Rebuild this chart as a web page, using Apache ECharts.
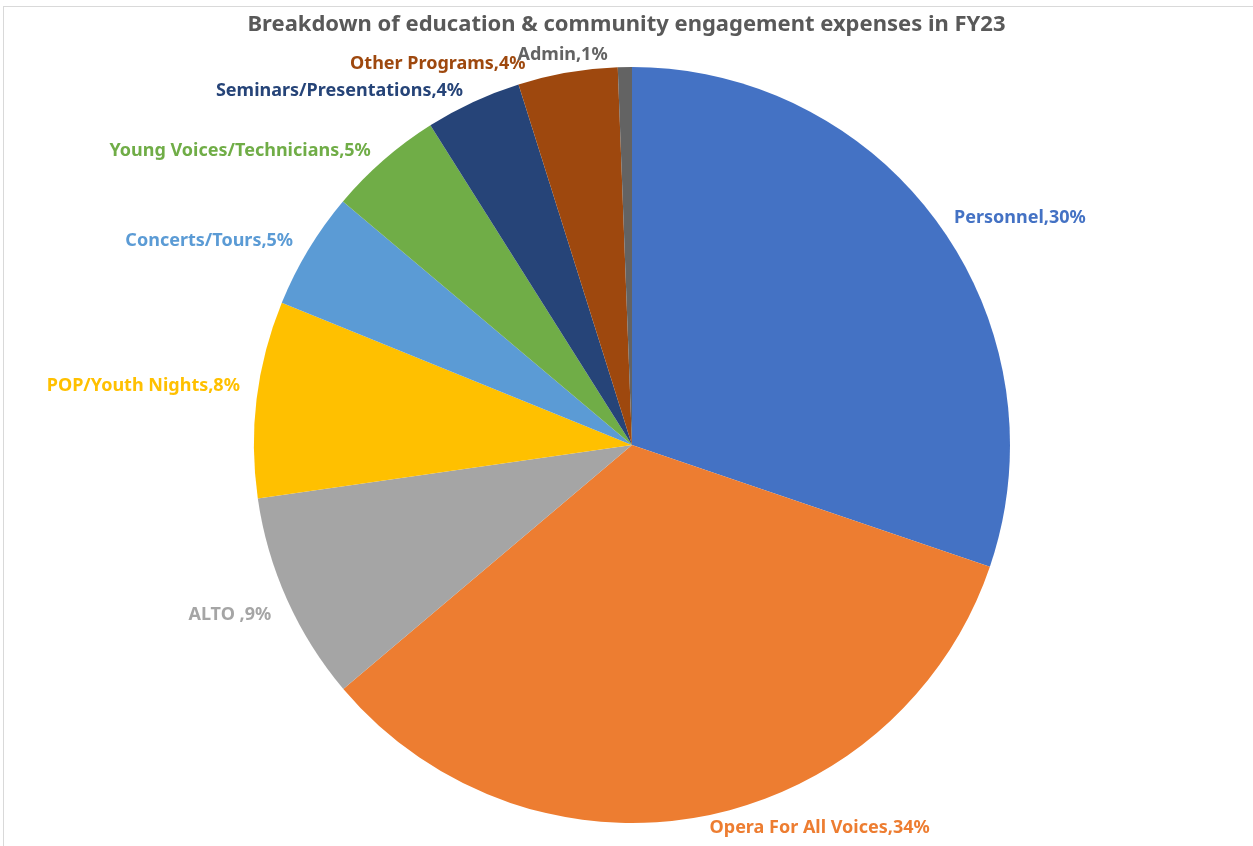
<!DOCTYPE html>
<html>
<head>
<meta charset="utf-8">
<script src="https://cdn.jsdelivr.net/npm/echarts@6/dist/echarts.min.js"></script>
<style>
  html, body { margin: 0; padding: 0; background: #fff; }
  #frame { position: absolute; left: 3px; top: 6px; width: 1260px; height: 850px; border-left: 1px solid #d9d9d9; border-top: 1px solid #d9d9d9; }
  #chart { position: absolute; left: 0; top: 0; width: 1253px; height: 846px; }
</style>
</head>
<body>
<div id="frame"></div>
<div id="chart"></div>
<script>
const categories = ['Personnel', 'Opera For All Voices', 'ALTO ', 'POP/Youth Nights', 'Concerts/Tours',
  'Young Voices/Technicians', 'Seminars/Presentations', 'Other Programs', 'Admin']
const values = [30.2, 33.6, 8.9, 8.4, 5.0, 4.9, 4.1, 4.25, 0.6]
const colors = ['#4472C4', '#ED7D31', '#A5A5A5', '#FFC000', '#5B9BD5', '#70AD47', '#264478', '#9E480E', '#636363']

const chart = echarts.init(document.getElementById('chart'))
const font = "'Noto Sans', sans-serif"

// small nudges so labels sit where excel put them
const nudge = {
  2: [0, 10],
  3: [0, -12],
  4: [0, -3],
  7: [-35, 3],
  8: [-12, 0]
}

const option = {
  animation: false,
  title: {
    text: 'Breakdown of education & community engagement expenses in FY23',
    left: 'center',
    top: 9,
    textStyle: { color: '#595959', fontSize: 22, fontWeight: 'bold', fontFamily: font }
  },
  series: [{
    type: 'pie',
    center: [632, 445],
    radius: 378,
    startAngle: 90,
    clockwise: true,
    avoidLabelOverlap: false,
    minShowLabelAngle: 0,
    percentPrecision: 0,
    label: {
      show: true,
      position: 'outside',
      formatter: '{b},{d}%',
      fontSize: 18,
      fontWeight: 'bold',
      fontFamily: font
    },
    labelLine: { show: false, length: 12, length2: 0 },
    labelLayout: function (params) {
      const n = nudge[params.dataIndex] || [0, 0]
      return { hideOverlap: false, dx: n[0], dy: n[1] }
    },
    data: categories.map((c, i) => ({
      name: c,
      value: values[i],
      itemStyle: { color: colors[i] },
      label: { color: colors[i] }
    }))
  }]
}
chart.setOption(option)
</script>
</body>
</html>
